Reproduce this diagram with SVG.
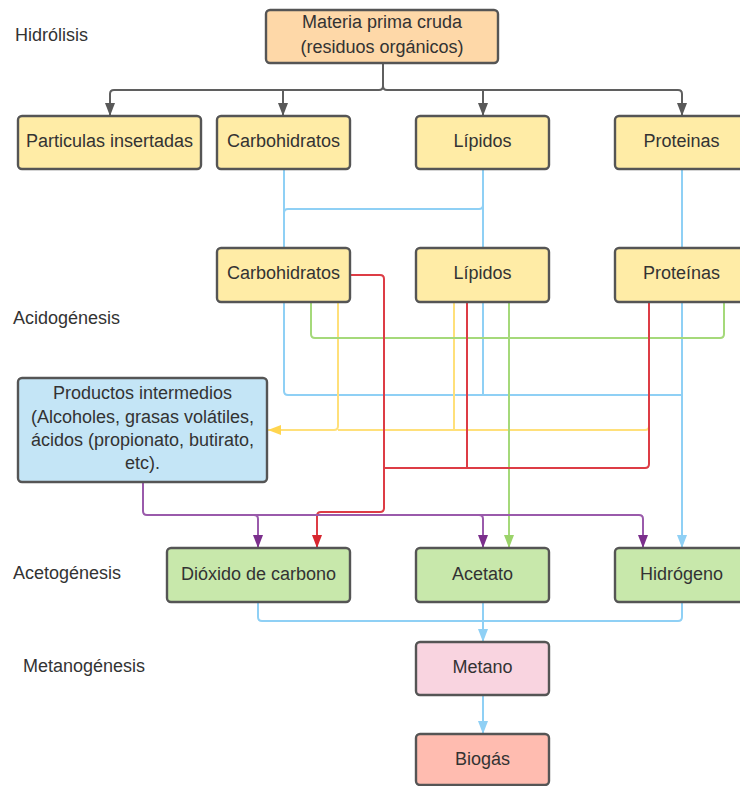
<svg xmlns="http://www.w3.org/2000/svg" width="740" height="786" viewBox="0 0 740 786">
<style>
text{font-family:"Liberation Sans",Arial,sans-serif;font-size:18px;fill:#333}
.c{text-anchor:middle}
.box{stroke:#555;stroke-width:2.4}
.y{fill:#ffeca6}.o{fill:#fed8a8}.b{fill:#c4e5f6}.g{fill:#c8e8ab}.p{fill:#f9d4e0}.s{fill:#ffbcb0}
.ln{fill:none;stroke-width:2}
.gr{stroke:#5f5f5f}.bl{stroke:#8fd0f5}.ye{stroke:#ffe07a}.rd{stroke:#dd3c45}.gn{stroke:#a5d97a}.pu{stroke:#9a5aab}
</style>
<defs>
<marker id="aG" markerUnits="userSpaceOnUse" markerWidth="13" markerHeight="12" refX="13" refY="5" orient="auto" viewBox="0 0 13 10"><path d="M0 0L13 5L0 10z" fill="#595959"/></marker>
<marker id="aB" markerUnits="userSpaceOnUse" markerWidth="13" markerHeight="12" refX="13" refY="5" orient="auto" viewBox="0 0 13 10"><path d="M0 0L13 5L0 10z" fill="#8fd0f5"/></marker>
<marker id="aY" markerUnits="userSpaceOnUse" markerWidth="13" markerHeight="12" refX="13" refY="5" orient="auto" viewBox="0 0 13 10"><path d="M0 0L13 5L0 10z" fill="#ffd54f"/></marker>
<marker id="aR" markerUnits="userSpaceOnUse" markerWidth="13" markerHeight="12" refX="13" refY="5" orient="auto" viewBox="0 0 13 10"><path d="M0 0L13 5L0 10z" fill="#d7262f"/></marker>
<marker id="aN" markerUnits="userSpaceOnUse" markerWidth="13" markerHeight="12" refX="13" refY="5" orient="auto" viewBox="0 0 13 10"><path d="M0 0L13 5L0 10z" fill="#9bd36a"/></marker>
<marker id="aP" markerUnits="userSpaceOnUse" markerWidth="13" markerHeight="12" refX="13" refY="5" orient="auto" viewBox="0 0 13 10"><path d="M0 0L13 5L0 10z" fill="#7b2f8c"/></marker>
</defs>
<g id="labels">
<text x="15" y="41">Hidrólisis</text>
<text x="13" y="324">Acidogénesis</text>
<text x="13" y="579">Acetogénesis</text>
<text x="23" y="672">Metanogénesis</text>
</g>
<g id="connectors">
<path class="ln gr" d="M383 63V86Q383 90 379 90H114Q110 90 110 94V116" marker-end="url(#aG)"/>
<path class="ln gr" d="M383 63V86Q383 90 387 90H678Q682 90 682 94V116" marker-end="url(#aG)"/>
<path class="ln gr" d="M283 90V116" marker-end="url(#aG)"/>
<path class="ln gr" d="M483 90V116" marker-end="url(#aG)"/>
<path class="ln bl" d="M284 169V391Q284 395 288 395H682"/>
<path class="ln bl" d="M284 213Q284 209 288 209H479Q483 209 483 205"/>
<path class="ln bl" d="M483 169V395"/>
<path class="ln bl" d="M682 169V548" marker-end="url(#aB)"/>
<path class="ln ye" d="M338 302V426Q338 430 334 430H268" marker-end="url(#aY)"/>
<path class="ln ye" d="M454 302V430"/>
<path class="ln ye" d="M649 302V426Q649 430 645 430H338"/>
<path class="ln gn" d="M311 302V334Q311 338 315 338H720Q724 338 724 334V302"/>
<path class="ln gn" d="M509 302V548" marker-end="url(#aN)"/>
<path class="ln rd" d="M350 275H380Q384 275 384 279V508Q384 512 380 512H321Q317 512 317 516V548" marker-end="url(#aR)"/>
<path class="ln rd" d="M467 302V468"/>
<path class="ln rd" d="M649 302V464Q649 468 645 468H384"/>
<path class="ln pu" d="M143 482V511Q143 515 147 515H639Q643 515 643 519V548" marker-end="url(#aP)"/>
<path class="ln pu" d="M254 515Q258 515 258 519V548" marker-end="url(#aP)"/>
<path class="ln pu" d="M479 515Q483 515 483 519V548" marker-end="url(#aP)"/>
<path class="ln bl" d="M258 602V617Q258 621 262 621H678Q682 621 682 617V602"/>
<path class="ln bl" d="M483 602V642" marker-end="url(#aB)"/>
<path class="ln bl" d="M483 695V734" marker-end="url(#aB)"/>
</g>
<g id="materia"><rect class="box o" x="266" y="10" width="232" height="53" rx="4"/><text class="c" x="382" y="28">Materia prima cruda</text><text class="c" x="382" y="53">(residuos orgánicos)</text></g>
<g id="particulas"><rect class="box y" x="18" y="116" width="183" height="53" rx="4"/><text class="c" x="109.5" y="147">Particulas insertadas</text></g>
<g id="carbo1"><rect class="box y" x="217" y="116" width="133" height="53" rx="4"/><text class="c" x="283.5" y="147">Carbohidratos</text></g>
<g id="lipidos1"><rect class="box y" x="416" y="116" width="133" height="53" rx="4"/><text class="c" x="482.5" y="147">Lípidos</text></g>
<g id="proteinas1"><rect class="box y" x="615" y="116" width="133" height="53" rx="4"/><text class="c" x="681.5" y="147">Proteinas</text></g>
<g id="carbo2"><rect class="box y" x="217" y="248" width="133" height="54" rx="4"/><text class="c" x="283.5" y="279">Carbohidratos</text></g>
<g id="lipidos2"><rect class="box y" x="416" y="248" width="133" height="54" rx="4"/><text class="c" x="482.5" y="279">Lípidos</text></g>
<g id="proteinas2"><rect class="box y" x="615" y="248" width="133" height="54" rx="4"/><text class="c" x="681.5" y="279">Proteínas</text></g>
<g id="productos"><rect class="box b" x="18" y="378" width="249" height="104" rx="4"/>
<text class="c" x="142.5" y="399">Productos intermedios</text>
<text class="c" x="142.5" y="423">(Alcoholes, grasas volátiles,</text>
<text class="c" x="142.5" y="446">ácidos (propionato, butirato,</text>
<text class="c" x="142.5" y="469">etc).</text></g>
<g id="dioxido"><rect class="box g" x="167" y="548" width="183" height="54" rx="4"/><text class="c" x="258.5" y="580">Dióxido de carbono</text></g>
<g id="acetato"><rect class="box g" x="416" y="548" width="133" height="54" rx="4"/><text class="c" x="482.5" y="580">Acetato</text></g>
<g id="hidrogeno"><rect class="box g" x="615" y="548" width="133" height="54" rx="4"/><text class="c" x="681.5" y="580">Hidrógeno</text></g>
<g id="metano"><rect class="box p" x="416" y="642" width="133" height="53" rx="4"/><text class="c" x="482.5" y="673">Metano</text></g>
<g id="biogas"><rect class="box s" x="416" y="734" width="133" height="51" rx="4"/><text class="c" x="482.5" y="765">Biogás</text></g>
</svg>
